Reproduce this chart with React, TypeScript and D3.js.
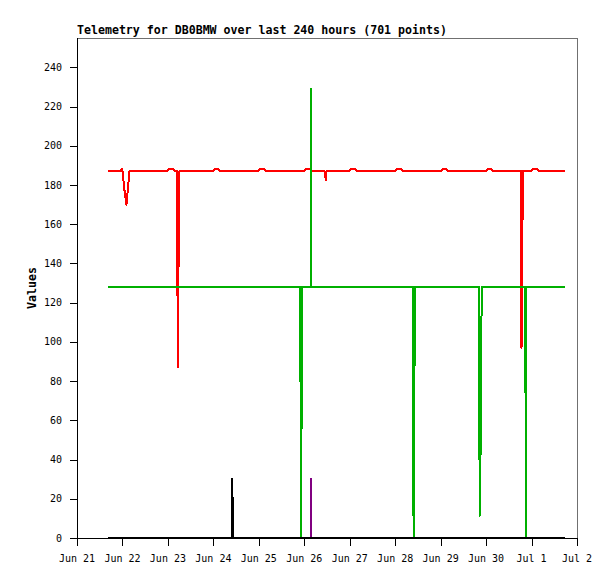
import React from "react";
import * as d3 from "d3";

const TITLE = "Telemetry for DB0BMW over last 240 hours (701 points)";
const Y_LABEL = "Values";
const Y_TICKS = [0, 20, 40, 60, 80, 100, 120, 140, 160, 180, 200, 220, 240];

// hours since Jun 21 00:00 and values
const redHours = [17.05, 23.0, 23.34, 23.92, 24.55, 25.34, 26.14, 26.93, 27.72, 47.52, 48.31, 50.95, 51.74, 52.9, 53.17, 53.6, 53.9, 71.81, 72.6, 74.7, 75.5, 95.57, 96.36, 99.0, 99.8, 119.86, 120.65, 123.3, 124.1, 130.9, 131.3, 131.7, 143.6, 144.4, 147.1, 147.8, 167.9, 168.7, 171.3, 172.1, 192.2, 193.0, 195.1, 195.8, 216.0, 216.8, 218.9, 219.7, 234.45, 234.7, 235.1, 235.4, 239.7, 240.5, 243.1, 244.0, 257.3];
const redValues = [187, 187, 188, 188, 182, 175, 170, 179, 187, 187, 188, 188, 187, 187, 87, 137, 187, 187, 188, 188, 187, 187, 188, 188, 187, 187, 188, 188, 187, 187, 182.5, 187, 187, 188, 188, 187, 187, 188, 188, 187, 187, 188, 188, 187, 187, 188, 188, 187, 187, 97, 142, 187, 187, 188, 188, 187, 187];

const greenHours = [17.05, 117.9, 118.2, 118.6, 118.9, 123.3, 123.43, 123.56, 177.4, 177.7, 178.1, 178.4, 212.3, 212.6, 212.95, 213.3, 213.7, 236.75, 236.9, 237.05, 257.3];
const greenValues = [128, 128, 0, 64, 128, 128, 229, 128, 128, 0, 64, 128, 128, 11.4, 27, 77.5, 128, 128, 0, 128, 128];

const blackHours = [17.05, 81.7, 81.84, 82.3, 82.45, 257.3];
const blackValues = [0, 0, 30, 15, 0, 0];

const purpleHours = [17.05, 123.4, 123.5, 123.6, 257.3];
const purpleValues = [0, 0, 30, 0, 0];

const START = new Date(2023, 5, 21);
const END = new Date(2023, 6, 2);

const W = 615, H = 579;
const L = 77, R = 577, T = 38, B = 538;

export default function App() {
  const x = d3.scaleTime().domain([START, END]).range([L, R]);
  const y = d3.scaleLinear().domain([0, 255]).range([B, T]);
  const line = d3
    .line<[number, number]>()
    .x((d) => x(d3.timeMinute.offset(START, Math.round(d[0] * 60))))
    .y((d) => y(d[1]));
  const mk = (hs: number[], vs: number[]) => hs.map((h, i) => [h, vs[i]] as [number, number]);
  const series = [
    { data: mk(redHours, redValues), color: "#ff0000" },
    { data: mk(greenHours, greenValues), color: "#00b000" },
    { data: mk(purpleHours, purpleValues), color: "#800080" },
    { data: mk(blackHours, blackValues), color: "#000000" },
  ];
  const xTicks = d3.timeDay.range(START, d3.timeDay.offset(END, 1));
  const fmt = d3.timeFormat("%b %-d");
  const tickFont = "'DejaVu Sans Mono', monospace";
  return (
    <svg width={W} height={H} style={{ position: "absolute", left: 0, top: 0, background: "#fff" }}>
      <rect x={0} y={0} width={W} height={H} fill="#fff" />
      <text x={L} y={34} fontFamily={tickFont} fontWeight="bold" fontSize={11.6}>{TITLE}</text>
      <text transform={`translate(36,${(T + B) / 2}) rotate(-90)`} textAnchor="middle" fontFamily={tickFont} fontWeight="bold" fontSize={11.6}>{Y_LABEL}</text>
      <line x1={L} x2={R} y1={T + 0.5} y2={T + 0.5} stroke="#707070" />
      <line x1={R + 0.5} x2={R + 0.5} y1={T} y2={B} stroke="#707070" />
      {series.map((s, i) => (
        <path key={i} d={line(s.data) || ""} fill="none" stroke={s.color} strokeWidth={2} strokeLinejoin="round" strokeLinecap="square" shapeRendering="crispEdges" />
      ))}
      <line x1={L + 0.5} x2={L + 0.5} y1={T} y2={B + 1} stroke="#000" />
      <line x1={L} x2={R + 1} y1={B + 0.5} y2={B + 0.5} stroke="#000" />
      {Y_TICKS.map((t) => (
        <g key={t}>
          <line x1={L - 7} x2={L} y1={Math.round(y(t)) + 0.5} y2={Math.round(y(t)) + 0.5} stroke="#000" />
          <text x={62} y={y(t) + 3.5} textAnchor="end" fontFamily={tickFont} fontSize={10}>{t}</text>
        </g>
      ))}
      {xTicks.map((t, i) => (
        <g key={i}>
          <line x1={Math.round(x(t)) + 0.5} x2={Math.round(x(t)) + 0.5} y1={B} y2={B + 8} stroke="#000" />
          <text x={x(t)} y={562} textAnchor="middle" fontFamily={tickFont} fontSize={10}>{fmt(t)}</text>
        </g>
      ))}
    </svg>
  );
}
